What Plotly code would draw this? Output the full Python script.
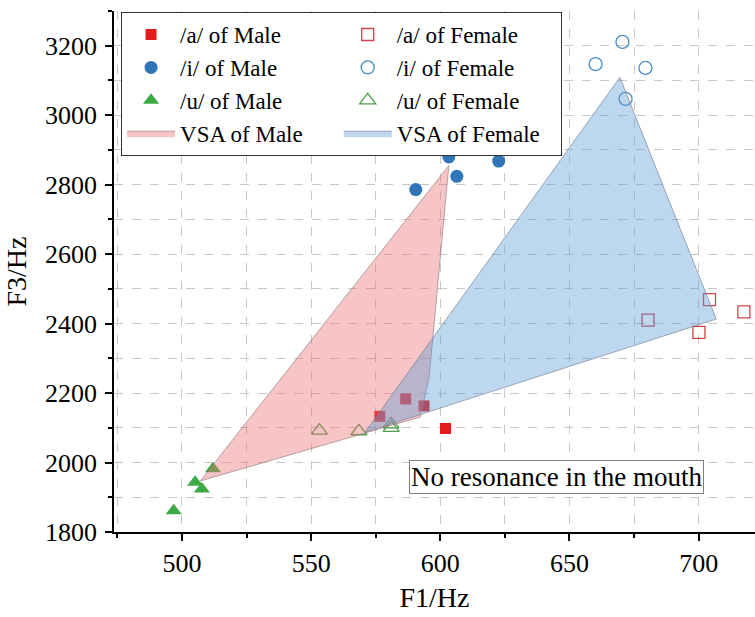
import plotly.graph_objects as go

# ---- data ----
a_male_f1 = [576.6, 586.6, 593.7, 602.0]
a_male_f3 = [2133, 2183, 2163, 2098]
i_male_f1 = [590.5, 603.3, 606.4, 622.6]
i_male_f3 = [2786, 2880, 2824, 2868]
u_male_f1 = [496.8, 505.1, 507.7, 512.0]
u_male_f3 = [1861, 1943, 1924, 1982]

a_female_f1 = [680.4, 700.1, 704.2, 717.5]
a_female_f3 = [2410, 2375, 2469, 2434]
i_female_f1 = [660.1, 670.5, 679.4, 671.7]
i_female_f3 = [3147, 3211, 3136, 3047]
u_female_f1 = [553.2, 568.5, 580.9, 581.0]
u_female_f3 = [2092, 2090, 2110, 2100]

vsa_male_f1 = [507.1, 603.3, 595.7, 592.2]
vsa_male_f3 = [1947, 2855, 2246, 2131]
vsa_female_f1 = [570.9, 669.5, 706.8]
vsa_female_f3 = [2087, 3109, 2413]

note_text = "No resonance in the mouth"
note_pos = (644.9, 1959)

FONT = "Liberation Serif, Times New Roman, serif"
RED, BLUE, GREEN = "#E41A1C", "#2F75B8", "#3DAA45"

fig = go.Figure()

def pts(x, y, name, symbol, color, size, open_=False):
    if open_:
        marker = dict(symbol=symbol + "-open", size=size, color=color,
                      line=dict(width=1.3, color=color))
    else:
        marker = dict(symbol=symbol, size=size, color=color, line=dict(width=0))
    fig.add_trace(go.Scatter(x=x, y=y, mode="markers", name=name, marker=marker))

# legend is laid out row-major in two columns
pts(a_male_f1, a_male_f3, "/a/ of Male", "square", RED, 11)
pts(a_female_f1, a_female_f3, "/a/ of Female", "square", "#D0454A", 12, True)
pts(i_male_f1, i_male_f3, "/i/ of Male", "circle", BLUE, 13)
pts(i_female_f1, i_female_f3, "/i/ of Female", "circle", "#4A8CC4", 13, True)
pts(u_male_f1, u_male_f3, "/u/ of Male", "triangle-up", GREEN, 14)
pts(u_female_f1, u_female_f3, "/u/ of Female", "triangle-up", "#4EA04E", 14, True)

fig.add_trace(go.Scatter(
    x=vsa_male_f1 + [vsa_male_f1[0]], y=vsa_male_f3 + [vsa_male_f3[0]],
    mode="lines", fill="toself", name="VSA of Male",
    fillcolor="rgba(238,110,115,0.4)",
    line=dict(color="rgba(140,120,125,0.8)", width=0.8)))
fig.add_trace(go.Scatter(
    x=vsa_female_f1 + [vsa_female_f1[0]], y=vsa_female_f3 + [vsa_female_f3[0]],
    mode="lines", fill="toself", name="VSA of Female",
    fillcolor="rgba(91,155,213,0.4)",
    line=dict(color="rgba(110,125,145,0.8)", width=0.8)))

fig.add_annotation(x=note_pos[0], y=note_pos[1], text=note_text, showarrow=False,
                   font=dict(family=FONT, size=27, color="black"),
                   bgcolor="white", bordercolor="#808080", borderwidth=1, borderpad=1)

axis_common = dict(
    showline=True, linecolor="black", linewidth=1.5,
    ticks="outside", ticklen=7, tickwidth=1.5, tickcolor="black",
    tickfont=dict(family=FONT, size=26, color="black"),
    showgrid=True, gridcolor="#c8c8c8", gridwidth=1, griddash="dash",
    zeroline=False, mirror=False,
)

fig.update_xaxes(
    range=[473.7, 721.8], dtick=50, tick0=500,
    minor=dict(dtick=25, ticks="outside", ticklen=4, tickwidth=1.5, tickcolor="black",
               showgrid=True, gridcolor="#c8c8c8", griddash="dash", gridwidth=1),
    title=dict(text="F1/Hz", font=dict(family=FONT, size=28, color="black"), standoff=10),
    **axis_common)
fig.update_yaxes(
    range=[1800, 3300], dtick=200, tick0=1800,
    minor=dict(dtick=100, ticks="outside", ticklen=4, tickwidth=1.5, tickcolor="black",
               showgrid=True, gridcolor="#c8c8c8", griddash="dash", gridwidth=1),
    ticklabelstandoff=3,
    title=dict(text="F3/Hz", font=dict(family=FONT, size=28, color="black"), standoff=10),
    **axis_common)

fig.update_layout(
    width=755, height=617,
    margin=dict(l=114, r=0, t=11, b=85),
    paper_bgcolor="white", plot_bgcolor="white",
    font=dict(family=FONT, color="black"),
    legend=dict(
        orientation="h", x=0.011, y=0.998, xanchor="left", yanchor="top",
        entrywidthmode="fraction", entrywidth=0.338, itemwidth=48,
        font=dict(family=FONT, size=23, color="black"),
        bgcolor="white", bordercolor="#333333", borderwidth=1,
    ),
)

fig.write_html("out.html")
